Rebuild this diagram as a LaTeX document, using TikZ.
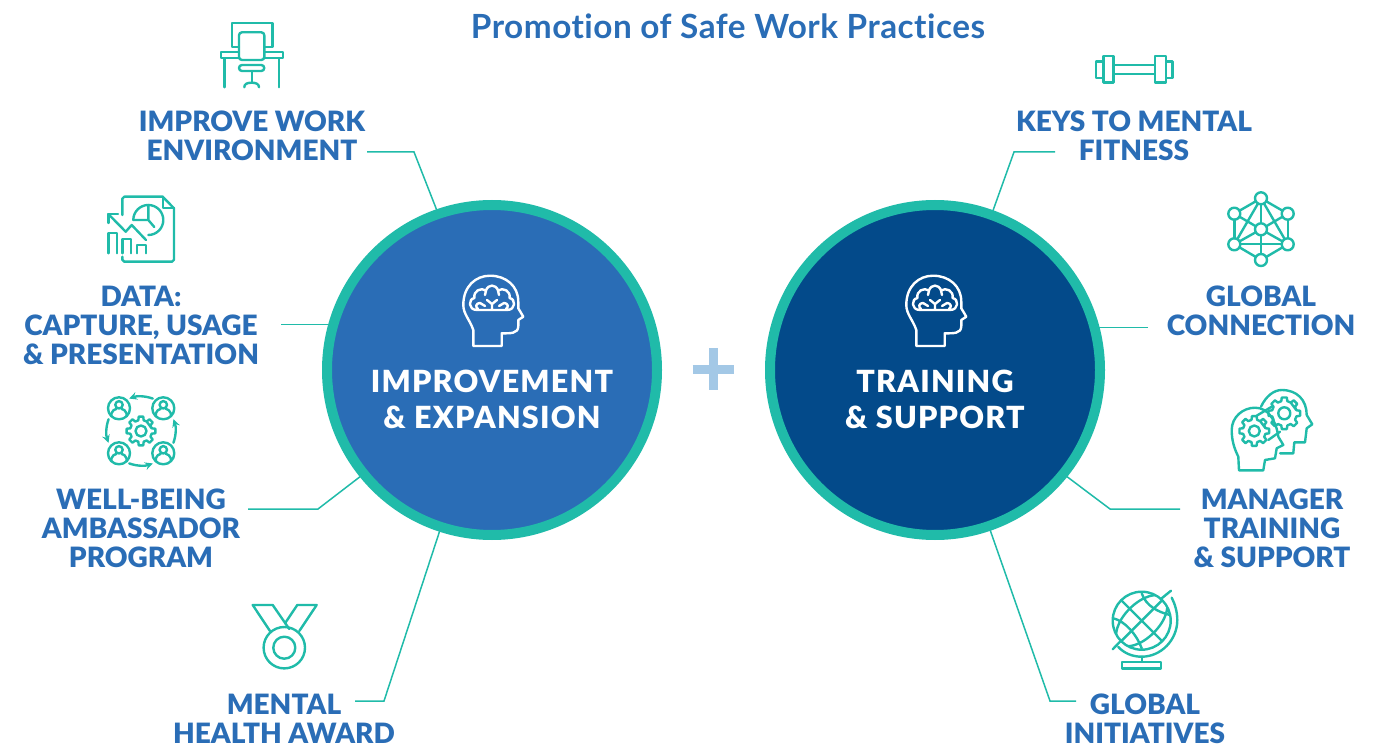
\documentclass[tikz,border=0pt]{standalone}
\usepackage{fontspec}
\setmainfont{Lato}[Ligatures=NoCommon]
\newfontfamily\blackfont{Lato Black}
\newfontfamily\bigfont[LetterSpace=4]{Lato Black}
\newfontfamily\titlefont[LetterSpace=1.5, Ligatures=NoCommon]{Lato}
\definecolor{labelblue}{HTML}{2A6DB6}
\definecolor{navyblue}{HTML}{034A8A}
\definecolor{tealline}{HTML}{20BBA9}
\definecolor{plusblue}{HTML}{A3C8E6}
\tikzset{
  itemlabel/.style={text=labelblue, font=\fontsize{28}{29}\selectfont\blackfont, align=center, inner sep=0pt},
  bigcircle/.style={circle, draw=tealline, line width=10pt, minimum size=330pt, inner sep=0pt, outer sep=0pt},
  bigtext/.style={text=white, font=\fontsize{30.5}{36}\selectfont\bigfont, align=center, inner sep=0pt},
  link/.style={draw=tealline, line width=1.5pt},
  icon/.style={draw=tealline, line width=2.4pt, line join=round, line cap=round},
  netdot/.style={circle, icon, fill=white, minimum size=12pt, inner sep=0pt, outer sep=0pt},
  pics/headicon/.style={code={
    \draw[draw=white, line width=2.4pt, line join=round, line cap=round]
      (-18.7,36) -- (-18.7,20) .. controls (-22,10) and (-28.7,4) .. (-28.7,-5)
      .. controls (-28.7,-24) and (-16,-34.3) .. (-2,-34.3)
      .. controls (14,-34.3) and (26.3,-24) .. (26.3,-8.3)
      -- (26.3,-1.7) -- (31.3,6.7) -- (26.3,10) -- (26.3,16)
      .. controls (26.3,24) and (18,23.3) .. (9.7,23.3) -- (9.7,36) -- cycle;
    \draw[draw=white, line width=2.4pt, line join=round, line cap=round]
      (-15,0) .. controls (-24,0) and (-24,-11) .. (-17.5,-12)
      .. controls (-19,-19) and (-11,-23) .. (-6,-19.5)
      .. controls (-4,-26) and (4,-26) .. (6,-19.5)
      .. controls (11,-23) and (19,-19) .. (17.5,-12)
      .. controls (24,-11) and (24,0) .. (15,0) -- cycle
      (0,0) -- (0,-6) -- (-5,-10) (0,-6) -- (5,-10)
      (-7,-4) -- (-12,-7) .. controls (-16,-7) and (-17,-3) .. (-14,-1)
      (7,-4) -- (12,-7) .. controls (16,-7) and (17,-3) .. (14,-1)
      (-6,-19.5) -- (-7,-15) (6,-19.5) -- (7,-15);
  }},
  pics/gearicon/.style n args={3}{code={
    \draw[icon]
      \foreach \a in {0,45,...,315} {
        (\a-14:#2) -- (\a-9:#1) -- (\a+9:#1) -- (\a+14:#2) -- (\a+31:#2)
      } -- cycle;
    \draw[icon] (0,0) circle (#3);
  }},
  pics/personicon/.style={code={
    \draw[icon] (0,0) circle (11);
    \draw[icon] (0,-3.5) circle (3.7);
    \draw[icon] (-7.5,7.5) -- (-7.5,5) .. controls (-7.5,2) and (-4,1.5) .. (-2.5,0.5)
      (7.5,7.5) -- (7.5,5) .. controls (7.5,2) and (4,1.5) .. (2.5,0.5);
  }},
}
\begin{document}
\begin{tikzpicture}[x=1pt, y=-1pt]
  \useasboundingbox (0,0) rectangle (1385,746);

  \node[text=labelblue, font=\fontsize{33.3}{36}\selectfont\titlefont\bfseries, inner sep=0pt] (title) at (728,26) {Promotion of Safe Work Practices};

  \node[bigcircle, fill=labelblue] (leftcircle) at (492,370) {};
  \node[bigcircle, fill=navyblue] (rightcircle) at (935,370) {};
  \node[bigtext] (lefttext) at (492,399.5) {IMPROVEMENT\\\& EXPANSION};
  \node[bigtext] (righttext) at (935,399.5) {TRAINING\\\& SUPPORT};
  \pic at (492,310) {headicon};
  \pic at (935,310) {headicon};

  \draw[plusblue, line width=9pt] (692.7,369) -- (734,369);
  \draw[plusblue, line width=9pt] (713.7,348.3) -- (713.7,390);

  % labels
  \node[itemlabel] (envlabel) at (252,136) {IMPROVE WORK\\ENVIRONMENT};
  \node[itemlabel] (datalabel) at (141,325.5) {DATA:\\CAPTURE, USAGE\\\& PRESENTATION};
  \node[itemlabel] (welllabel) at (141,528.5) {WELL-BEING\\AMBASSADOR\\PROGRAM};
  \node[itemlabel] (awardlabel) at (284,718.5) {MENTAL\\HEALTH AWARD};
  \node[itemlabel] (keyslabel) at (1134,136) {KEYS TO MENTAL\\FITNESS};
  \node[itemlabel] (connlabel) at (1261,311) {GLOBAL\\CONNECTION};
  \node[itemlabel] (mgrlabel) at (1272,528.5) {MANAGER\\TRAINING\\\& SUPPORT};
  \node[itemlabel] (initlabel) at (1145,718.5) {GLOBAL\\INITIATIVES};

  % connectors
  \coordinate (envbend) at (414,152);
  \coordinate (wellbend) at (318,509);
  \coordinate (awardbend) at (384,701);
  \coordinate (keysbend) at (1014,152);
  \coordinate (mgrbend) at (1110,509);
  \coordinate (initbend) at (1050,701);
  \draw[link] ([xshift=115]envlabel.center |- envbend) -- (envbend) -- (leftcircle.109.3);
  \draw[link] ([xshift=140]datalabel.center |- leftcircle.164.5) -- (leftcircle.164.5);
  \draw[link] ([xshift=107]welllabel.center |- wellbend) -- (wellbend) -- (leftcircle.219);
  \draw[link] ([xshift=71]awardlabel.center |- awardbend) -- (awardbend) -- (leftcircle.252.4);
  \draw[link] ([xshift=-79]keyslabel.center |- keysbend) -- (keysbend) -- (rightcircle.70.4);
  \draw[link] ([xshift=-113]connlabel.center |- rightcircle.15.3) -- (rightcircle.15.3);
  \draw[link] ([xshift=-92]mgrlabel.center |- mgrbend) -- (mgrbend) -- (rightcircle.321.4);
  \draw[link] ([xshift=-69]initlabel.center |- initbend) -- (initbend) -- (rightcircle.289.5);

  % desk
  \draw[icon] (239,47.3) -- (231.7,47.3) -- (231.7,23.3) -- (272.3,23.3) -- (272.3,47.3) -- (264.3,47.3);
  \draw[icon, rounded corners=3pt] (239,32.3) rectangle (264.3,60);
  \draw[icon, rounded corners=3pt] (239,65) rectangle (264.3,71);
  \draw[icon] (239,52.3) -- (220.7,52.3) -- (220.7,58.3) -- (239,58.3)
    (264.3,52.3) -- (282.7,52.3) -- (282.7,58.3) -- (264.3,58.3);
  \draw[icon] (224.3,58.3) -- (224.3,87.3) (279,58.3) -- (279,87.3);
  \draw[icon] (251.7,71) -- (251.7,82.7);
  \draw[icon] (244.3,87.3) .. controls (244.3,84) and (247,82.7) .. (251.7,82.7) .. controls (256,82.7) and (259,84) .. (259,87.3);

  % report
  \draw[icon] (122.3,215) -- (122.3,198.7) -- (124.3,196.7) -- (162.7,196.7) -- (174,208.3) -- (174,259.7) -- (172,261.7) -- (124.3,261.7) -- (122.3,259.7) -- (122.3,256.7);
  \draw[icon] (162.7,196.7) -- (162.7,208.3) -- (174,208.3);
  \draw[icon] (148.3,235) arc[start angle=90, end angle=-180, radius=15];
  \draw[icon] (133.3,220) -- (148.3,220) -- (148.3,205) (148.3,220) -- (154.3,227);
  \draw[icon] (146,240) -- (131.7,225) -- (125.7,231.7) -- (108.3,214);
  \draw[icon] (108.3,223) -- (108.3,214) -- (118,214);
  \draw[icon] (108.3,253.3) -- (108.3,233.3) -- (116.7,233.3) -- (116.7,253.3);
  \draw[icon] (122.3,253.3) -- (122.3,239.3) -- (130.7,239.3) -- (130.7,253.3);
  \draw[icon] (136.7,253.3) -- (136.7,245) -- (146,245) -- (146,253.3);

  % ambassadors
  \pic at (119,408.3) {personicon};
  \pic at (163.3,408.3) {personicon};
  \pic at (119,453.3) {personicon};
  \pic at (163.3,453.3) {personicon};
  \pic at (141,431) {gearicon={14.5}{11}{5.5}};
  \foreach \a in {70,160,250,340}
    \draw[icon, ->, >=stealth] (141,431) ++(-\a:34.5) arc[start angle=-\a, end angle=-\a-40, radius=34.5];

  % medal
  \draw[icon] (270,631) -- (252.7,605) -- (272.7,605) -- (289.3,629);
  \draw[icon] (285,623.3) -- (297.3,605) -- (316.7,605) -- (299.3,631);
  \draw[icon] (284.3,647.7) circle (20.7);
  \draw[icon] (284.3,647.7) circle (11);

  % barbell
  \draw[icon] (1096,61.7) rectangle (1103.3,78.3);
  \draw[icon] (1103.3,56) rectangle (1113.3,82.7);
  \draw[icon] (1113.3,65) rectangle (1155,74);
  \draw[icon] (1155,56) rectangle (1166,82.7);
  \draw[icon] (1166,61.7) rectangle (1172.3,78.3);

  % network
  \node[netdot] (nettop) at (1261,198.3) {};
  \node[netdot] (netul) at (1234.3,213.7) {};
  \node[netdot] (netur) at (1287.7,213.7) {};
  \node[netdot] (netll) at (1234.3,244.3) {};
  \node[netdot] (netlr) at (1287.7,244.3) {};
  \node[netdot] (netbot) at (1261,260) {};
  \node[netdot] (netmid) at (1261,229.3) {};
  \foreach \p/\q in {nettop/netul, nettop/netur, netul/netll, netur/netlr, netll/netbot, netlr/netbot,
                     nettop/netmid, netmid/netbot, netll/netlr, netul/netmid, netur/netmid,
                     netmid/netll, netmid/netlr, nettop/netll, nettop/netlr}
    \draw[icon] (\p) -- (\q);

  % two heads
  \draw[icon] (1261,406.7) .. controls (1266,396) and (1274,390) .. (1281.7,390)
    .. controls (1297,390) and (1306.7,400) .. (1306.7,415) -- (1312.3,424.3) -- (1306.7,428.3)
    -- (1305,442.3) -- (1294.3,442.3) -- (1293.3,453.3) -- (1280,453.3);
  \draw[icon] (1239,470.3) -- (1238.3,456.7) .. controls (1234,448) and (1231.7,440) .. (1231.7,430)
    .. controls (1231.7,417) and (1243,407.7) .. (1255,407.7)
    .. controls (1268,407.7) and (1276,420) .. (1278.3,436.7) -- (1283.3,445) -- (1276.7,448.3)
    -- (1275,458.3) -- (1265,460) -- (1263.3,470.3) -- cycle;
  \pic at (1254.3,431) {gearicon={15}{11.5}{5.5}};
  \pic at (1284.3,413.3) {gearicon={16}{12.5}{6}};
  \draw[icon] (1256.7,415.7) -- (1271.7,406.7) (1268.3,440) -- (1280,431.7);

  % globe
  \draw[icon] (1141.7,620.7) circle (29);
  \begin{scope}
    \clip (1141.7,620.7) circle (29);
    \draw[icon] (1141.7,620.7) ellipse[x radius=32, y radius=17, rotate=45];
    \draw[icon] (1121.2,600.2) -- (1162.2,641.2);
    \draw[icon] (1141.7,593.3) .. controls (1146,606) and (1158,612) .. (1170,615);
    \draw[icon] (1113.3,618.3) .. controls (1125,621) and (1137,635) .. (1141.7,648.3);
    \draw[icon] (1162.2,600.2) -- (1121.2,641.2);
  \end{scope}
  \draw[icon] (1171.7,597.7) .. controls (1175,604) and (1177.3,612) .. (1177.3,620)
    .. controls (1177.3,640) and (1161,656.7) .. (1141.7,656.7) .. controls (1132,656.7) and (1124,653) .. (1118.3,647);
  \draw[icon] (1161.7,598.3) -- (1171,590.7) (1112.7,649.3) -- (1120,641.7);
  \draw[icon] (1141.7,656.7) -- (1141.7,661.7);
  \draw[icon] (1121.7,661.7) rectangle (1161,668.3);
\end{tikzpicture}
\end{document}
